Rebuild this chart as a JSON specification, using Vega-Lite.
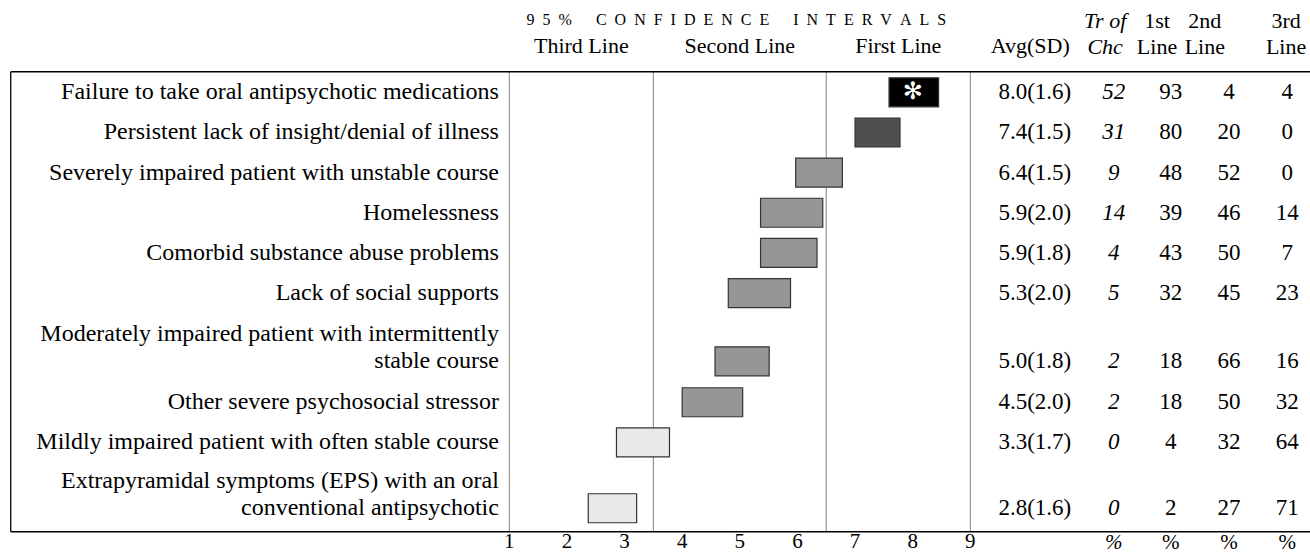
{
  "$schema": "https://vega.github.io/schema/vega-lite/v6.json",
  "width": 1310,
  "height": 554,
  "padding": 0,
  "autosize": "none",
  "background": "white",
  "config": {
    "view": {"stroke": null},
    "axis": {"disable": true},
    "text": {"font": "Liberation Serif", "color": "black", "fontSize": 23}
  },
  "datasets": {
    "rows": [
      {"label": "Failure to take oral antipsychotic medications", "row": 1, "lo": 7.59, "hi": 8.45, "avg": 8.0, "avg_sd": "8.0(1.6)", "tr": 52, "l1": 93, "l2": 4, "l3": 4, "rating": "Treatment of choice"},
      {"label": "Persistent lack of insight/denial of illness", "row": 2, "lo": 7.0, "hi": 7.78, "avg": 7.4, "avg_sd": "7.4(1.5)", "tr": 31, "l1": 80, "l2": 20, "l3": 0, "rating": "First line"},
      {"label": "Severely impaired patient with unstable course", "row": 3, "lo": 5.97, "hi": 6.78, "avg": 6.4, "avg_sd": "6.4(1.5)", "tr": 9, "l1": 48, "l2": 52, "l3": 0, "rating": "Second line"},
      {"label": "Homelessness", "row": 4, "lo": 5.36, "hi": 6.44, "avg": 5.9, "avg_sd": "5.9(2.0)", "tr": 14, "l1": 39, "l2": 46, "l3": 14, "rating": "Second line"},
      {"label": "Comorbid substance abuse problems", "row": 5, "lo": 5.36, "hi": 6.34, "avg": 5.9, "avg_sd": "5.9(1.8)", "tr": 4, "l1": 43, "l2": 50, "l3": 7, "rating": "Second line"},
      {"label": "Lack of social supports", "row": 6, "lo": 4.8, "hi": 5.88, "avg": 5.3, "avg_sd": "5.3(2.0)", "tr": 5, "l1": 32, "l2": 45, "l3": 23, "rating": "Second line"},
      {"label_above": "Moderately impaired patient with intermittently", "label": "stable course", "row": 7.7, "lo": 4.57, "hi": 5.51, "avg": 5.0, "avg_sd": "5.0(1.8)", "tr": 2, "l1": 18, "l2": 66, "l3": 16, "rating": "Second line"},
      {"label": "Other severe psychosocial stressor", "row": 8.72, "lo": 4.0, "hi": 5.05, "avg": 4.5, "avg_sd": "4.5(2.0)", "tr": 2, "l1": 18, "l2": 50, "l3": 32, "rating": "Second line"},
      {"label": "Mildly impaired patient with often stable course", "row": 9.72, "lo": 2.86, "hi": 3.78, "avg": 3.3, "avg_sd": "3.3(1.7)", "tr": 0, "l1": 4, "l2": 32, "l3": 64, "rating": "Third line"},
      {"label_above": "Extrapyramidal symptoms (EPS) with an oral", "label": "conventional antipsychotic", "row": 11.36, "lo": 2.37, "hi": 3.21, "avg": 2.8, "avg_sd": "2.8(1.6)", "tr": 0, "l1": 2, "l2": 27, "l3": 71, "rating": "Third line"}
    ],
    "bounds": [{"v": 1}, {"v": 3.5}, {"v": 6.5}, {"v": 9}],
    "zones": [{"zone": "Third Line", "mid": 2.25}, {"zone": "Second Line", "mid": 5.0}, {"zone": "First Line", "mid": 7.75}],
    "ticks": [{"t": 1}, {"t": 2}, {"t": 3}, {"t": 4}, {"t": 5}, {"t": 6}, {"t": 7}, {"t": 8}, {"t": 9}],
    "one": [{}]
  },
  "layer": [
    {
      "data": {"name": "bounds"},
      "mark": {"type": "rule", "color": "#808080", "strokeWidth": 1},
      "encoding": {
        "x": {"field": "v", "type": "quantitative", "scale": {"domain": [-7.838, 14.895], "nice": false, "zero": false, "padding": 0}},
        "y": {"datum": 0.486, "type": "quantitative", "scale": {"domain": [-1.3, 12.5], "nice": false, "zero": false, "reverse": true, "padding": 0}},
        "y2": {"datum": 11.945}
      }
    },
    {
      "data": {"name": "one"},
      "mark": {"type": "rule", "color": "black", "strokeWidth": 1.5},
      "encoding": {
        "x": {"datum": -7.652, "type": "quantitative", "scale": {"domain": [-7.838, 14.895], "nice": false, "zero": false, "padding": 0}},
        "x2": {"datum": 14.895},
        "y": {"datum": 0.486, "type": "quantitative", "scale": {"domain": [-1.3, 12.5], "nice": false, "zero": false, "reverse": true, "padding": 0}}
      }
    },
    {
      "data": {"name": "one"},
      "mark": {"type": "rule", "color": "black", "strokeWidth": 1.5},
      "encoding": {
        "x": {"datum": -7.652, "type": "quantitative", "scale": {"domain": [-7.838, 14.895], "nice": false, "zero": false, "padding": 0}},
        "x2": {"datum": 14.895},
        "y": {"datum": 11.945, "type": "quantitative", "scale": {"domain": [-1.3, 12.5], "nice": false, "zero": false, "reverse": true, "padding": 0}}
      }
    },
    {
      "data": {"name": "one"},
      "mark": {"type": "rule", "color": "black", "strokeWidth": 1.3},
      "encoding": {
        "x": {"datum": -7.652, "type": "quantitative", "scale": {"domain": [-7.838, 14.895], "nice": false, "zero": false, "padding": 0}},
        "y": {"datum": 0.486, "type": "quantitative", "scale": {"domain": [-1.3, 12.5], "nice": false, "zero": false, "reverse": true, "padding": 0}},
        "y2": {"datum": 11.945}
      }
    },
    {
      "data": {"name": "rows"},
      "mark": {"type": "bar", "orient": "horizontal", "height": 29, "stroke": "#333333", "strokeWidth": 1.2},
      "encoding": {
        "x": {"field": "lo", "type": "quantitative", "scale": {"domain": [-7.838, 14.895], "nice": false, "zero": false, "padding": 0}},
        "x2": {"field": "hi"},
        "y": {"field": "row", "type": "quantitative", "scale": {"domain": [-1.3, 12.5], "nice": false, "zero": false, "reverse": true, "padding": 0}},
        "color": {
          "field": "rating", "type": "nominal", "legend": null,
          "scale": {"domain": ["Treatment of choice", "First line", "Second line", "Third line"], "range": ["#000000", "#4f4f4f", "#969696", "#e9e9e9"]}
        }
      }
    },
    {
      "data": {"name": "rows"},
      "transform": [{"filter": "datum.rating === 'Treatment of choice'"}],
      "mark": {"type": "text", "text": "✻", "font": "DejaVu Sans", "fontSize": 24, "fontWeight": "bold", "color": "white", "baseline": "middle", "dy": 0},
      "encoding": {
        "x": {"field": "avg", "type": "quantitative", "scale": {"domain": [-7.838, 14.895], "nice": false, "zero": false, "padding": 0}},
        "y": {"field": "row", "type": "quantitative", "scale": {"domain": [-1.3, 12.5], "nice": false, "zero": false, "reverse": true, "padding": 0}}
      }
    },
    {
      "data": {"name": "rows"},
      "mark": {"type": "text", "align": "right", "baseline": "middle", "fontSize": 24},
      "encoding": {
        "x": {"datum": 0.82, "type": "quantitative", "scale": {"domain": [-7.838, 14.895], "nice": false, "zero": false, "padding": 0}},
        "y": {"field": "row", "type": "quantitative", "scale": {"domain": [-1.3, 12.5], "nice": false, "zero": false, "reverse": true, "padding": 0}},
        "text": {"field": "label", "type": "nominal"}
      }
    },
    {
      "data": {"name": "rows"},
      "transform": [{"filter": "isValid(datum.label_above)"}],
      "mark": {"type": "text", "align": "right", "baseline": "middle", "fontSize": 24, "dy": -27},
      "encoding": {
        "x": {"datum": 0.82, "type": "quantitative", "scale": {"domain": [-7.838, 14.895], "nice": false, "zero": false, "padding": 0}},
        "y": {"field": "row", "type": "quantitative", "scale": {"domain": [-1.3, 12.5], "nice": false, "zero": false, "reverse": true, "padding": 0}},
        "text": {"field": "label_above", "type": "nominal"}
      }
    },
    {
      "data": {"name": "rows"},
      "mark": {"type": "text", "align": "center", "baseline": "middle"},
      "encoding": {
        "x": {"datum": 10.12, "type": "quantitative", "scale": {"domain": [-7.838, 14.895], "nice": false, "zero": false, "padding": 0}},
        "y": {"field": "row", "type": "quantitative", "scale": {"domain": [-1.3, 12.5], "nice": false, "zero": false, "reverse": true, "padding": 0}},
        "text": {"field": "avg_sd", "type": "nominal"}
      }
    },
    {
      "data": {"name": "rows"},
      "mark": {"type": "text", "align": "center", "baseline": "middle", "fontStyle": "italic"},
      "encoding": {
        "x": {"datum": 11.49, "type": "quantitative", "scale": {"domain": [-7.838, 14.895], "nice": false, "zero": false, "padding": 0}},
        "y": {"field": "row", "type": "quantitative", "scale": {"domain": [-1.3, 12.5], "nice": false, "zero": false, "reverse": true, "padding": 0}},
        "text": {"field": "tr", "type": "nominal"}
      }
    },
    {
      "data": {"name": "rows"},
      "mark": {"type": "text", "align": "center", "baseline": "middle"},
      "encoding": {
        "x": {"datum": 12.48, "type": "quantitative", "scale": {"domain": [-7.838, 14.895], "nice": false, "zero": false, "padding": 0}},
        "y": {"field": "row", "type": "quantitative", "scale": {"domain": [-1.3, 12.5], "nice": false, "zero": false, "reverse": true, "padding": 0}},
        "text": {"field": "l1", "type": "nominal"}
      }
    },
    {
      "data": {"name": "rows"},
      "mark": {"type": "text", "align": "center", "baseline": "middle"},
      "encoding": {
        "x": {"datum": 13.49, "type": "quantitative", "scale": {"domain": [-7.838, 14.895], "nice": false, "zero": false, "padding": 0}},
        "y": {"field": "row", "type": "quantitative", "scale": {"domain": [-1.3, 12.5], "nice": false, "zero": false, "reverse": true, "padding": 0}},
        "text": {"field": "l2", "type": "nominal"}
      }
    },
    {
      "data": {"name": "rows"},
      "mark": {"type": "text", "align": "center", "baseline": "middle"},
      "encoding": {
        "x": {"datum": 14.5, "type": "quantitative", "scale": {"domain": [-7.838, 14.895], "nice": false, "zero": false, "padding": 0}},
        "y": {"field": "row", "type": "quantitative", "scale": {"domain": [-1.3, 12.5], "nice": false, "zero": false, "reverse": true, "padding": 0}},
        "text": {"field": "l3", "type": "nominal"}
      }
    },
    {
      "data": {"name": "ticks"},
      "mark": {"type": "text", "align": "center", "baseline": "alphabetic", "fontSize": 21},
      "encoding": {
        "x": {"field": "t", "type": "quantitative", "scale": {"domain": [-7.838, 14.895], "nice": false, "zero": false, "padding": 0}},
        "y": {"datum": 12.35, "type": "quantitative", "scale": {"domain": [-1.3, 12.5], "nice": false, "zero": false, "reverse": true, "padding": 0}},
        "text": {"field": "t", "type": "nominal"}
      }
    },
    {
      "data": {"name": "zones"},
      "mark": {"type": "text", "align": "center", "baseline": "middle", "fontSize": 22},
      "encoding": {
        "x": {"field": "mid", "type": "quantitative", "scale": {"domain": [-7.838, 14.895], "nice": false, "zero": false, "padding": 0}},
        "y": {"datum": -0.154, "type": "quantitative", "scale": {"domain": [-1.3, 12.5], "nice": false, "zero": false, "reverse": true, "padding": 0}},
        "text": {"field": "zone", "type": "nominal"}
      }
    },
    {
      "data": {"name": "one"},
      "mark": {"type": "text", "align": "center", "baseline": "middle", "fontSize": 16, "text": "9\u20025\u2002%\u2002\u2002\u2002C\u2002O\u2002N\u2002F\u2002I\u2002D\u2002E\u2002N\u2002C\u2002E\u2002\u2002\u2002I\u2002N\u2002T\u2002E\u2002R\u2002V\u2002A\u2002L\u2002S"},
      "encoding": {
        "x": {"datum": 4.94, "type": "quantitative", "scale": {"domain": [-7.838, 14.895], "nice": false, "zero": false, "padding": 0}},
        "y": {"datum": -0.8, "type": "quantitative", "scale": {"domain": [-1.3, 12.5], "nice": false, "zero": false, "reverse": true, "padding": 0}}
      }
    },
    {
      "data": {"name": "one"},
      "mark": {"type": "text", "align": "center", "baseline": "middle", "fontSize": 22, "text": "Avg(SD)"},
      "encoding": {
        "x": {"datum": 10.04, "type": "quantitative", "scale": {"domain": [-7.838, 14.895], "nice": false, "zero": false, "padding": 0}},
        "y": {"datum": -0.154, "type": "quantitative", "scale": {"domain": [-1.3, 12.5], "nice": false, "zero": false, "reverse": true, "padding": 0}}
      }
    },
    {
      "data": {"name": "one"},
      "mark": {"type": "text", "align": "center", "baseline": "alphabetic", "fontSize": 22, "lineHeight": 26, "fontStyle": "italic", "text": ["Tr of", "Chc"]},
      "encoding": {
        "x": {"datum": 11.34, "type": "quantitative", "scale": {"domain": [-7.838, 14.895], "nice": false, "zero": false, "padding": 0}},
        "y": {"datum": -0.612, "type": "quantitative", "scale": {"domain": [-1.3, 12.5], "nice": false, "zero": false, "reverse": true, "padding": 0}}
      }
    },
    {
      "data": {"name": "one"},
      "mark": {"type": "text", "align": "center", "baseline": "alphabetic", "fontSize": 22, "lineHeight": 26, "text": ["1st", "Line"]},
      "encoding": {
        "x": {"datum": 12.24, "type": "quantitative", "scale": {"domain": [-7.838, 14.895], "nice": false, "zero": false, "padding": 0}},
        "y": {"datum": -0.612, "type": "quantitative", "scale": {"domain": [-1.3, 12.5], "nice": false, "zero": false, "reverse": true, "padding": 0}}
      }
    },
    {
      "data": {"name": "one"},
      "mark": {"type": "text", "align": "center", "baseline": "alphabetic", "fontSize": 22, "lineHeight": 26, "text": ["2nd", "Line"]},
      "encoding": {
        "x": {"datum": 13.07, "type": "quantitative", "scale": {"domain": [-7.838, 14.895], "nice": false, "zero": false, "padding": 0}},
        "y": {"datum": -0.612, "type": "quantitative", "scale": {"domain": [-1.3, 12.5], "nice": false, "zero": false, "reverse": true, "padding": 0}}
      }
    },
    {
      "data": {"name": "one"},
      "mark": {"type": "text", "align": "center", "baseline": "alphabetic", "fontSize": 22, "lineHeight": 26, "text": ["3rd", "Line"]},
      "encoding": {
        "x": {"datum": 14.48, "type": "quantitative", "scale": {"domain": [-7.838, 14.895], "nice": false, "zero": false, "padding": 0}},
        "y": {"datum": -0.612, "type": "quantitative", "scale": {"domain": [-1.3, 12.5], "nice": false, "zero": false, "reverse": true, "padding": 0}}
      }
    },
    {
      "data": {"name": "one"},
      "mark": {"type": "text", "align": "center", "baseline": "alphabetic", "fontSize": 21, "fontStyle": "italic", "text": "%"},
      "encoding": {
        "x": {"datum": 11.49, "type": "quantitative", "scale": {"domain": [-7.838, 14.895], "nice": false, "zero": false, "padding": 0}},
        "y": {"datum": 12.37, "type": "quantitative", "scale": {"domain": [-1.3, 12.5], "nice": false, "zero": false, "reverse": true, "padding": 0}}
      }
    },
    {
      "data": {"name": "one"},
      "mark": {"type": "text", "align": "center", "baseline": "alphabetic", "fontSize": 21, "text": "%"},
      "encoding": {
        "x": {"datum": 12.48, "type": "quantitative", "scale": {"domain": [-7.838, 14.895], "nice": false, "zero": false, "padding": 0}},
        "y": {"datum": 12.37, "type": "quantitative", "scale": {"domain": [-1.3, 12.5], "nice": false, "zero": false, "reverse": true, "padding": 0}}
      }
    },
    {
      "data": {"name": "one"},
      "mark": {"type": "text", "align": "center", "baseline": "alphabetic", "fontSize": 21, "text": "%"},
      "encoding": {
        "x": {"datum": 13.49, "type": "quantitative", "scale": {"domain": [-7.838, 14.895], "nice": false, "zero": false, "padding": 0}},
        "y": {"datum": 12.37, "type": "quantitative", "scale": {"domain": [-1.3, 12.5], "nice": false, "zero": false, "reverse": true, "padding": 0}}
      }
    },
    {
      "data": {"name": "one"},
      "mark": {"type": "text", "align": "center", "baseline": "alphabetic", "fontSize": 21, "text": "%"},
      "encoding": {
        "x": {"datum": 14.5, "type": "quantitative", "scale": {"domain": [-7.838, 14.895], "nice": false, "zero": false, "padding": 0}},
        "y": {"datum": 12.37, "type": "quantitative", "scale": {"domain": [-1.3, 12.5], "nice": false, "zero": false, "reverse": true, "padding": 0}}
      }
    }
  ]
}
